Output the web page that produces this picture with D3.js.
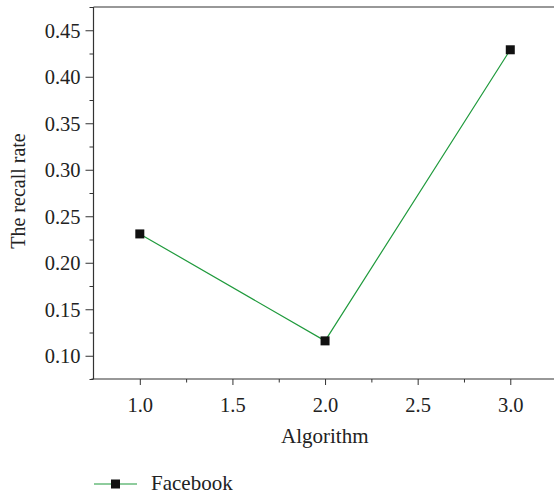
<!DOCTYPE html>
<html><head><meta charset="utf-8">
<script src="https://cdn.jsdelivr.net/npm/d3@7"></script>
<style>body{margin:0;background:#fff}svg{display:block}text{font-family:"Liberation Serif","DejaVu Serif",serif;fill:#222}</style>
</head><body><svg id="c" width="554" height="496"></svg>
<script>
const algorithms = [1, 2, 3];
const recall = [0.231, 0.116, 0.429];
const seriesName = "Facebook";
const yTicks = [0.10, 0.15, 0.20, 0.25, 0.30, 0.35, 0.40, 0.45];
const xTicks = [1.0, 1.5, 2.0, 2.5, 3.0];

const svg = d3.select("#c");
const L = 93.5, R = 556.6, T = 7, B = 379;
const x = d3.scaleLinear().domain([0.75, 3.25]).range([L, R]);
const y = d3.scaleLinear().domain([0.075, 0.475]).range([B, T]);
const green = "#1f9a3c";

svg.append("line").attr("x1", L).attr("x2", 554).attr("y1", T).attr("y2", T).attr("stroke", "#333").attr("stroke-width", 1.2);

const yAxis = d3.axisLeft(y).tickValues(yTicks).tickFormat(d3.format(".2f")).tickSize(8).tickPadding(5);
const gy = svg.append("g").attr("transform", `translate(${L},0)`).call(yAxis);
const yMinor = d3.axisLeft(y).tickValues(d3.range(0.075, 0.476, 0.05)).tickFormat("").tickSize(4);
svg.append("g").attr("transform", `translate(${L},0)`).call(yMinor).select(".domain").remove();

const xAxis = d3.axisBottom(x).tickValues(xTicks).tickFormat(d3.format(".1f")).tickSize(6).tickPadding(10);
const gx = svg.append("g").attr("transform", `translate(0,${B})`).call(xAxis);
const xMinor = d3.axisBottom(x).tickValues([1.25, 1.75, 2.25, 2.75]).tickFormat("").tickSize(3.5);
svg.append("g").attr("transform", `translate(0,${B})`).call(xMinor).select(".domain").remove();

svg.selectAll(".domain").attr("stroke", "#333").attr("stroke-width", 1.2);
svg.selectAll(".tick line").attr("stroke", "#333");
svg.selectAll(".tick text").style("font-size", "20.5px").attr("fill", "#222");
gy.selectAll(".tick text").attr("dy", "0.34em");
gx.selectAll(".tick text").attr("dy", 0).attr("y", 33);
gx.select(".domain").attr("d", `M${L - 2},0H554`);
gy.select(".domain").attr("d", `M0,${B}V${T}`);

svg.append("text").attr("x", (L + 554) / 2 + 1).attr("y", 443).attr("text-anchor", "middle").style("font-size", "21px").text("Algorithm");
svg.append("text").attr("transform", `translate(25,191) rotate(-90)`).attr("text-anchor", "middle").style("font-size", "20px").text("The recall rate");

const pts = algorithms.map((a, i) => [a, recall[i]]);
svg.append("path").datum(pts).attr("fill", "none").attr("stroke", green).attr("stroke-width", 1.2)
  .attr("d", d3.line().x(d => x(d[0])).y(d => y(d[1])));
svg.selectAll("rect.m").data(pts).enter().append("rect").attr("class", "m")
  .attr("x", d => x(d[0]) - 4.5).attr("y", d => y(d[1]) - 4.5).attr("width", 9).attr("height", 9).attr("fill", "#111");

const lg = svg.append("g");
lg.append("line").attr("x1", 94).attr("x2", 137).attr("y1", 484).attr("y2", 484).attr("stroke", green).attr("stroke-width", 1.2);
lg.append("rect").attr("x", 111).attr("y", 479.5).attr("width", 9).attr("height", 9).attr("fill", "#111");
lg.append("text").attr("x", 151).attr("y", 490).style("font-size", "21px").text(seriesName);
</script></body></html>
